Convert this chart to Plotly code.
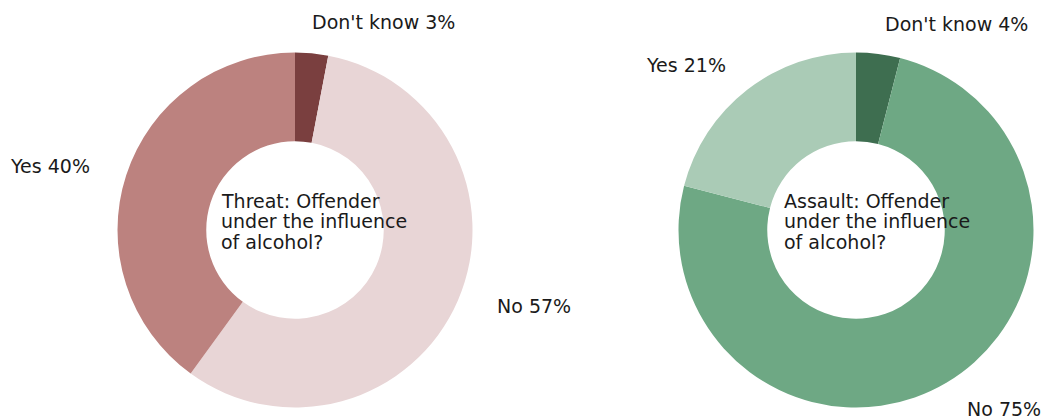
import plotly.graph_objects as go

W, H = 1042, 419

# Survey answers, in clockwise order from 12 o'clock
answers = ["Don't know", "No", "Yes"]
threat_pct = [3, 57, 40]
assault_pct = [4, 75, 21]

threat_colors = ["#7a3f3f", "#e8d5d6", "#bc827f"]
assault_colors = ["#3e6e50", "#6ea884", "#aacbb6"]

threat_title = ["Threat: Offender", "under the influence", "of alcohol?"]
assault_title = ["Assault: Offender", "under the influence", "of alcohol?"]

FONT = "DejaVu Sans"
TXT = "#1a1a1a"
FS = 19


def px_domain(cx, cy, r):
    """Pie domain (paper units) for a circle centred at pixel (cx, cy)."""
    return dict(x=[(cx - r) / W, (cx + r) / W],
                y=[1 - (cy + r) / H, 1 - (cy - r) / H])


R = 177.5
fig = go.Figure()
fig.add_trace(go.Pie(labels=answers, values=threat_pct, sort=False,
                     direction="clockwise", rotation=0, hole=0.5,
                     marker=dict(colors=threat_colors),
                     textinfo="none", hoverinfo="label+percent",
                     domain=px_domain(295, 230, R), showlegend=False))
fig.add_trace(go.Pie(labels=answers, values=assault_pct, sort=False,
                     direction="clockwise", rotation=0, hole=0.5,
                     marker=dict(colors=assault_colors),
                     textinfo="none", hoverinfo="label+percent",
                     domain=px_domain(856, 230, R), showlegend=False))

annotations = []


def label(text, x, y):
    # annotation boxes carry a few px of padding; shift so the glyphs start at x
    annotations.append(dict(text=text, x=(x - 3) / W, y=1 - y / H, xref="paper", yref="paper",
                            xanchor="left", yanchor="middle", showarrow=False,
                            font=dict(family=FONT, size=FS, color=TXT)))


# Slice labels
threat_pos = [(313, 22), (498, 306), (11, 166)]
assault_pos = [(886, 23.5), (968, 408.5), (647, 65)]
for name, pct, (x, y) in zip(answers, threat_pct, threat_pos):
    label(f"{name} {pct}%", x, y)
for name, pct, (x, y) in zip(answers, assault_pct, assault_pos):
    label(f"{name} {pct}%", x, y)

# Centre captions, one annotation per line
for i, line in enumerate(threat_title):
    label(line, 222, 200.5 + 20.5 * i)
for i, line in enumerate(assault_title):
    label(line, 785, 200.5 + 20.5 * i)

fig.update_layout(width=W, height=H, margin=dict(l=0, r=0, t=0, b=0),
                  paper_bgcolor="white", plot_bgcolor="white",
                  annotations=annotations)

fig.write_html("out.html")
